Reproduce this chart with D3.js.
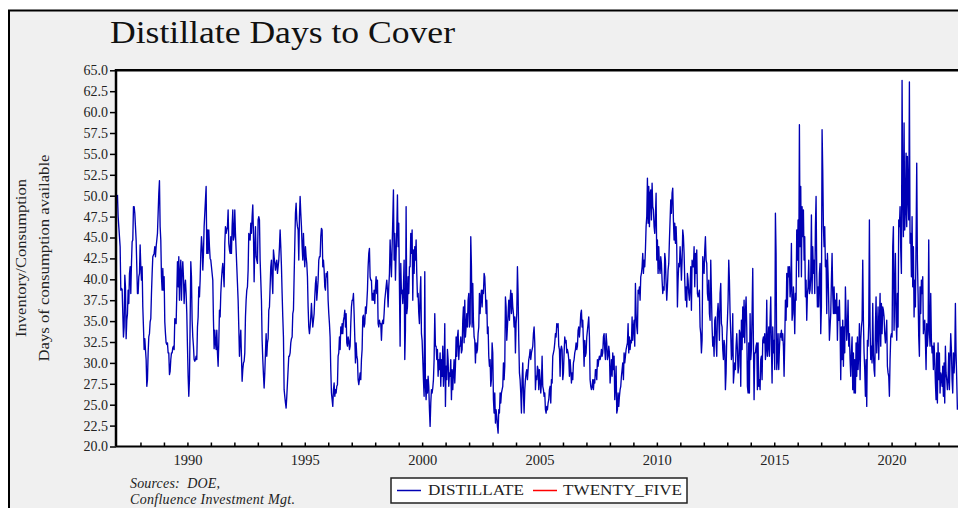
<!DOCTYPE html>
<html>
<head>
<meta charset="utf-8">
<script src="https://cdn.jsdelivr.net/npm/d3@7"></script>
<style>
  html, body { margin: 0; padding: 0; background: #fff; }
  svg { display: block; font-family: "Liberation Serif", "DejaVu Serif", serif; }
</style>
</head>
<body>
<div id="app"></div>
<script>
// Distillate days to cover on a regular ~10 day grid
const firstYear = 1987.02;
const stepYears = 0.0284;

const distillate1987 = [
  50.1, 47.5, 46.3, 45.1, 43.9, 38.7, 38.9, 38.8, 35.9, 33.1,
  34.3, 40.5, 39.1, 32.9, 35.1, 35.9, 38.7, 37.1, 40.7, 41.5,
  38.3, 41.9, 44.5, 44.7, 48.7, 48.7, 47.9, 46.3, 44.7, 41.5,
  38.3, 38.3, 40.3, 40.7, 44.1, 41.5, 39.9, 41.5, 36.7, 34.3,
  31.6, 32.9, 31.6, 30.4, 27.2, 28.0, 31.2, 33.1, 33.5, 34.9,
  35.3, 38.3, 40.7, 42.7, 42.9, 43.1, 43.9, 42.7, 43.9, 44.7,
  45.5, 47.9, 50.3, 51.8, 46.3, 44.7, 40.3, 38.7, 41.3, 38.7,
  40.3, 34.9, 33.5, 32.4, 32.2, 32.4, 31.2, 31.2, 28.6, 29.0,
  30.4, 31.2, 31.2, 31.8, 32.0, 31.6, 35.3, 35.1, 34.7, 38.3,
  42.1, 39.1, 42.7, 37.5, 40.7, 42.3, 37.5, 40.7, 42.1, 40.3,
  37.1, 39.1, 39.9, 38.3, 35.9, 32.0, 28.4, 26.0, 28.0, 34.7,
  42.1, 40.3, 35.1, 33.1, 32.0, 30.4, 30.2, 30.4, 30.8, 30.4,
  34.3, 35.5, 39.1, 37.9, 39.9, 43.1, 45.1, 43.9, 41.1, 43.1,
  46.3, 47.9, 49.5, 51.1, 43.1, 45.9, 43.1, 45.9, 43.9, 42.5,
  42.3, 41.5, 40.7, 39.9, 35.1, 31.7, 33.9, 32.4, 31.6, 33.9,
  31.2, 29.6, 32.4, 36.3, 35.5, 38.3, 39.9, 41.1, 41.9, 40.7,
  39.1, 44.3, 46.3, 45.5, 45.9, 46.3, 48.3, 44.3, 43.5, 43.1,
  45.1, 43.1, 46.3, 48.3, 44.7, 45.1, 48.3, 45.5, 43.5, 41.5,
  39.5, 37.5, 34.3, 30.8, 32.7, 33.9, 30.8, 27.8, 29.2, 30.0,
  30.2, 31.2, 35.5, 37.5, 38.7, 39.1, 41.1, 45.5, 45.1, 44.7,
  46.7, 45.5, 47.5, 48.9, 45.5, 39.7, 43.9, 46.3, 42.7, 42.3,
  41.9, 47.1, 47.5, 47.1, 42.3, 39.9, 37.5, 32.7, 30.4, 28.6,
  27.0, 28.8, 31.2, 33.5, 30.8, 32.4, 32.9, 36.3, 36.7, 39.1,
  41.5, 42.3, 39.9, 38.3, 43.5, 42.7, 41.9, 41.1, 41.9, 42.3,
  40.7, 41.5, 42.3, 43.9, 45.9, 43.9, 41.5, 38.3, 35.5, 33.1,
  26.8, 26.0, 25.2, 24.6, 26.0, 27.6, 29.2, 30.8, 30.8, 31.2,
  32.4, 32.9, 33.1, 35.9, 36.3, 40.3, 44.1, 47.9, 49.1, 47.1,
  46.3, 45.9, 42.3, 47.5, 49.9, 47.9, 46.3, 43.9, 42.3, 45.5,
  43.1, 41.5, 43.9, 42.7, 41.9, 40.3, 36.7, 34.3, 33.5, 34.3,
  35.5, 37.1, 35.5, 34.3, 35.1, 35.9, 37.9, 39.5, 40.3, 37.5,
  38.7, 39.9, 42.3, 42.7
];

const distillate1996 = [
  42.7, 45.1, 46.1, 45.9, 41.5, 42.3, 41.1, 39.1, 38.7, 40.7,
  40.3, 40.9, 37.5, 35.9, 34.7, 33.1, 29.2, 26.4, 25.6, 24.8,
  26.8, 27.6, 26.0, 26.8, 26.4, 27.2, 27.4, 30.8, 31.2, 33.1,
  31.6, 34.3, 33.5, 34.7, 33.5, 35.1, 35.5, 36.3, 34.3, 35.9,
  32.4, 32.0, 33.1, 32.7, 31.6, 32.0, 34.7, 36.7, 37.5, 37.5,
  38.3, 35.9, 33.1, 30.0, 32.4, 30.8, 30.4, 28.0, 27.4, 28.0,
  28.8, 28.0, 30.4, 31.6, 35.5, 35.7, 34.3, 34.7, 36.7, 35.9,
  37.1, 38.7, 41.5, 43.1, 43.7, 40.3, 39.9, 39.9, 37.5, 38.3,
  37.5, 38.7, 37.1, 39.1, 40.3, 38.3, 39.9, 34.7, 34.3, 35.1,
  34.7, 34.7, 32.7, 34.7, 35.1, 34.7, 35.9, 37.5, 38.3, 39.1,
  39.9, 38.7, 36.7, 39.1, 40.7, 44.7, 42.3, 40.3, 43.9, 47.1,
  50.7, 42.3, 45.5, 39.9, 43.1, 45.9, 50.1, 43.9, 46.7, 39.1,
  32.0, 41.9, 38.3, 38.7, 37.1, 39.1, 42.3, 30.4, 33.9, 48.7,
  35.9, 36.7, 40.3, 38.3, 41.5, 41.5, 45.5, 43.1, 45.9, 37.5,
  43.5, 40.7, 43.9, 42.3, 44.7, 40.7, 37.9, 38.3, 35.9, 34.7,
  38.3, 40.3, 33.5, 32.7, 30.4, 28.0, 26.0, 40.9, 27.2, 25.6,
  28.0, 26.4, 28.4, 27.2, 24.4, 22.4, 25.2, 26.8, 26.4, 27.0,
  28.0, 30.4, 35.9, 32.0, 32.0, 30.4, 31.6, 28.4, 30.4, 29.2,
  31.2, 27.2, 30.4, 28.4, 32.0, 27.2, 29.2, 34.7, 24.8, 29.6,
  28.0, 31.6, 30.4, 27.2, 28.8, 28.4, 30.4, 25.6, 29.2, 26.8,
  28.8, 30.4, 27.6, 29.6, 33.1, 30.8, 33.1, 33.9, 30.4, 32.0,
  32.0, 33.1, 31.2, 31.6, 35.1, 36.7, 32.4, 37.5, 33.1, 34.3,
  35.9, 34.3, 37.5, 38.3, 34.3, 34.7, 45.1, 41.5, 34.3, 39.5,
  35.1, 33.1, 32.7, 30.0, 32.4, 31.2, 31.6, 33.5, 34.3, 38.3,
  35.9, 37.9, 38.7, 36.7, 38.7, 38.3, 40.7, 40.3, 38.3, 35.9,
  37.5, 33.5, 34.3, 30.8, 29.6, 30.4, 27.2, 28.0, 32.4, 31.2,
  25.6, 24.0, 26.4, 22.8, 24.4, 23.6, 22.4, 21.6, 24.4, 24.0,
  26.4, 25.2, 26.4, 26.8, 27.2, 30.0, 28.0, 29.6, 37.9, 36.7,
  32.7, 34.3, 35.9, 37.5, 35.1, 37.5, 38.7, 35.9, 38.3, 36.7,
  35.9, 34.3, 35.5, 31.2, 34.7, 35.9, 41.5, 38.3, 32.7, 28.8,
  28.0, 26.4, 24.0, 28.0, 30.0, 26.4, 24.0, 26.8, 28.0, 28.8,
  29.2, 28.0, 29.2, 30.4, 30.8
];

const distillate2005 = [
  31.6, 30.4, 31.2, 31.6, 32.0, 33.5, 34.3, 32.4, 26.8, 28.4,
  28.0, 29.6, 29.2, 26.8, 29.2, 28.0, 26.4, 27.6, 30.8, 27.2,
  26.8, 26.0, 26.4, 24.4, 24.0, 24.8, 24.4, 25.2, 25.6, 26.8,
  27.2, 25.2, 28.0, 27.6, 30.8, 31.2, 31.6, 32.4, 33.5, 33.1,
  34.7, 34.3, 34.7, 32.0, 31.6, 28.4, 31.6, 32.0, 31.6, 28.0,
  28.8, 31.2, 33.1, 32.4, 32.7, 31.2, 31.6, 31.2, 30.4, 28.4,
  30.4, 29.2, 27.6, 28.8, 28.0, 30.0, 30.4, 31.2, 31.6, 32.4,
  31.6, 32.0, 33.9, 34.3, 33.1, 34.3, 35.9, 36.3, 34.3, 35.1,
  32.4, 29.6, 32.7, 30.8, 31.2, 33.1, 33.9, 34.7, 35.5, 33.1,
  28.0, 27.2, 26.8, 27.2, 28.0, 26.8, 28.0, 27.6, 29.2, 29.2,
  28.0, 30.4, 29.6, 30.4, 30.8, 30.4, 30.8, 31.6, 30.8, 31.2,
  33.1, 33.5, 31.6, 30.4, 33.5, 32.4, 30.4, 30.8, 32.0, 31.2,
  27.6, 28.8, 30.4, 28.4, 31.2, 29.2, 30.8, 25.6, 27.2, 29.6,
  24.0, 24.4, 26.4, 24.8, 26.0, 26.8, 27.2, 28.4, 29.2, 30.0,
  28.0, 31.2, 30.0, 30.8, 31.6, 32.0, 32.4, 34.7, 31.2, 33.1,
  31.6, 32.7, 32.4, 35.5, 32.7, 34.3, 35.1, 32.0, 39.5, 35.9,
  34.3, 33.5, 38.7, 38.3, 39.1, 37.5, 40.3, 40.7, 41.5, 43.1,
  40.7, 42.3, 41.5, 43.5, 46.3, 47.5, 52.1, 46.7, 51.1, 46.3,
  50.3, 50.7, 47.1, 51.5, 48.7, 48.3, 46.3, 45.5, 47.5, 50.3,
  42.3, 44.7, 40.7, 43.9, 41.5, 40.7, 42.7, 41.9, 39.9, 38.3,
  39.1, 38.7, 43.1, 42.3, 39.5, 37.5, 39.1, 41.1, 41.9, 44.7,
  47.1, 49.5, 47.9, 50.3, 50.9, 47.1, 44.7, 46.7, 44.3, 46.3,
  43.9, 36.7, 39.9, 41.9, 41.5, 43.9, 42.3, 39.9, 42.3, 45.9,
  45.1, 43.1, 39.9, 37.5, 39.1, 36.7, 40.7, 39.9, 38.3, 37.5,
  39.1, 41.5, 36.3, 42.3, 41.5, 41.5, 43.9, 39.1, 43.1, 40.7,
  43.5, 38.3, 37.9, 38.3, 38.7, 34.3, 33.5, 31.2, 32.7, 42.7,
  41.5, 40.7, 43.5, 45.1, 42.3, 41.9, 38.3, 37.5, 39.9, 35.9,
  35.1, 42.3, 38.3, 34.3, 32.0, 33.1, 30.8, 35.1, 35.5, 32.4,
  30.8, 35.9, 37.1, 35.5, 32.7, 38.3, 39.5, 34.7, 34.3, 31.6,
  30.4, 32.7, 32.0, 26.8, 28.8, 33.1, 35.1, 37.5, 42.3, 39.9,
  35.9, 33.5, 30.4, 31.2, 35.9, 27.6, 28.8, 30.0, 29.2, 32.0,
  33.5, 31.6, 28.8, 29.6, 33.9
];

const distillate2014 = [
  33.5, 27.2, 35.1, 31.6, 36.7, 33.1, 37.5, 32.4, 35.9, 37.9,
  34.3, 27.2, 26.4, 32.4, 26.4, 35.9, 30.4, 31.6, 35.9, 41.3,
  32.4, 25.6, 31.2, 31.2, 32.0, 32.4, 26.8, 32.4, 27.2, 28.0,
  26.8, 30.4, 30.8, 28.0, 32.7, 33.1, 32.4, 33.5, 30.4, 31.6,
  37.5, 30.8, 32.0, 34.3, 30.8, 35.1, 37.9, 32.0, 27.6, 34.3,
  31.2, 32.7, 29.2, 47.9, 43.1, 29.2, 30.4, 33.5, 29.2, 31.6,
  33.5, 33.1, 33.9, 32.7, 33.5, 32.0, 28.4, 32.7, 37.5, 35.1,
  40.7, 36.7, 41.5, 40.3, 41.5, 37.9, 39.1, 44.3, 35.1, 35.9,
  39.1, 37.1, 33.5, 38.3, 37.5, 45.9, 42.3, 47.1, 40.3, 58.5,
  43.9, 51.1, 40.3, 48.7, 45.1, 48.3, 42.3, 45.1, 37.9, 39.9,
  35.1, 38.3, 39.1, 42.3, 38.3, 38.7, 40.3, 47.7, 38.3, 43.9,
  40.7, 42.3, 38.3, 46.3, 49.9, 40.7, 36.7, 39.1, 36.7, 40.7,
  41.9, 33.5, 36.7, 57.9, 53.1, 46.3, 43.9, 46.3, 41.5, 42.3,
  35.9, 43.1, 40.7, 37.1, 32.7, 34.3, 35.9, 39.9, 43.1, 38.3,
  35.9, 39.1, 35.9, 37.5, 35.9, 38.3, 32.7, 36.7, 35.1, 37.5,
  34.3, 28.0, 34.3, 30.4, 35.1, 29.6, 34.3, 31.2, 39.1, 35.9,
  32.7, 34.3, 37.5, 32.0, 33.5, 30.4, 28.4, 31.2, 33.1, 26.8,
  31.2, 26.4, 30.4, 26.4, 32.4, 28.4, 33.1, 29.2, 31.2, 34.7,
  28.0, 32.7, 34.3, 35.1, 42.3, 35.1, 31.2, 29.2, 26.0, 30.4,
  24.8, 32.7, 32.0, 34.7, 47.1, 34.3, 30.4, 32.0, 30.0, 37.1,
  31.2, 29.2, 28.4, 34.3, 37.9, 31.2, 33.5, 36.7, 30.4, 34.7,
  38.3, 32.0, 37.1, 33.5, 36.7, 36.3, 35.5, 33.5, 32.4, 33.5,
  35.1, 29.6, 28.8, 28.4, 26.0, 30.4, 33.1, 33.5, 33.1, 43.9,
  46.3, 33.9, 38.3, 43.1, 35.1, 32.7, 38.3, 34.3, 47.1, 46.3,
  48.7, 43.5, 40.7, 63.8, 50.3, 45.1, 58.7, 45.9, 48.3, 55.1,
  46.3, 54.7, 49.9, 47.1, 63.6, 44.3, 45.5, 40.3, 47.5, 39.1,
  43.9, 35.5, 39.9, 36.7, 44.7, 53.9, 42.3, 38.3, 33.1, 30.8,
  39.1, 35.9, 39.9, 38.3, 40.3, 33.5, 34.7, 35.1, 32.7, 29.2,
  34.7, 32.0, 33.5, 44.7, 33.9, 32.0, 38.3, 32.7, 31.2, 32.0,
  29.2, 32.4, 30.4, 27.6, 25.6, 31.2, 25.2, 32.4, 28.0, 31.2,
  26.4, 28.8, 28.4, 27.2, 29.6, 26.0, 30.0, 25.2, 32.0, 28.8,
  28.0, 26.8, 28.0, 31.2, 26.8, 30.4, 33.5, 31.6, 28.0, 26.4,
  31.2, 28.8, 30.4, 37.1, 31.2, 28.0, 24.4
];

const yTicks = d3.range(20, 65.001, 2.5);
const yearTicks = d3.range(1988, 2023);
const legendItems = [
  { name: "DISTILLATE", color: "#0000b4" },
  { name: "TWENTY_FIVE", color: "#ff0000" }
];

const W = 958, H = 508;
const plot = { left: 116, top: 70.3, right: 962, bottom: 446.5 };

const svg = d3.select("#app").append("svg")
  .attr("width", W)
  .attr("height", H);

// grey panel with black frame (runs off the right and bottom edges)
svg.append("rect")
  .attr("x", 9).attr("y", 10.5)
  .attr("width", 1000).attr("height", 600)
  .attr("fill", "#f0f0f0")
  .attr("stroke", "#000")
  .attr("stroke-width", 2);

svg.append("text")
  .attr("x", 110).attr("y", 43)
  .attr("font-size", 31)
  .attr("textLength", 345)
  .attr("lengthAdjust", "spacingAndGlyphs")
  .attr("fill", "#111")
  .text("Distillate Days to Cover");

const x = d3.scaleLinear().domain([1987, 2023]).range([117, 962]);
const y = d3.scaleLinear().domain([20, 65]).range([plot.bottom, plot.top]);

svg.append("rect")
  .attr("x", plot.left).attr("y", plot.top)
  .attr("width", plot.right - plot.left)
  .attr("height", plot.bottom - plot.top)
  .attr("fill", "#fff");

svg.append("clipPath").attr("id", "clip")
  .append("rect")
  .attr("x", plot.left).attr("y", plot.top)
  .attr("width", plot.right - plot.left)
  .attr("height", plot.bottom - plot.top);

const values = [].concat(distillate1987, distillate1996, distillate2005, distillate2014);
const points = values.map((v, i) => ({ year: firstYear + i * stepYears, value: v }));

const line = d3.line()
  .x(d => x(d.year))
  .y(d => y(d.value));

svg.append("path")
  .datum(points)
  .attr("clip-path", "url(#clip)")
  .attr("d", line)
  .attr("fill", "none")
  .attr("stroke", legendItems[0].color)
  .attr("stroke-width", 1.35)
  .attr("stroke-linejoin", "round");

// axes
const yAxis = svg.append("g")
  .attr("transform", `translate(${plot.left},0)`)
  .call(d3.axisLeft(y).tickValues(yTicks).tickFormat(d3.format(".1f")).tickSize(6).tickPadding(2));

const xAxis = svg.append("g")
  .attr("transform", `translate(0,${plot.bottom})`)
  .call(d3.axisBottom(x).tickValues(yearTicks).tickSize(-4).tickPadding(8)
    .tickFormat(d => d % 5 === 0 ? String(d) : ""));

[yAxis, xAxis].forEach(g => {
  g.select(".domain").remove();
  g.selectAll(".tick line").attr("stroke", "#000").attr("stroke-width", 1.5);
  g.selectAll(".tick text")
    .attr("fill", "#222")
    .attr("font-family", "Liberation Serif, DejaVu Serif, serif")
    .attr("font-size", 14);
});
xAxis.selectAll(".tick text").attr("font-size", 14.5);

// plot border
svg.append("path")
  .attr("d", `M${plot.left},${plot.bottom}V${plot.top}H${plot.right + 2}`)
  .attr("fill", "none").attr("stroke", "#000").attr("stroke-width", 2.5);
svg.append("path")
  .attr("d", `M${plot.left},${plot.bottom}H${plot.right + 2}`)
  .attr("fill", "none").attr("stroke", "#000").attr("stroke-width", 2);

// y axis title, two lines
const yTitle = [
  { text: "Inventory/Consumption", x: 26, len: 158 },
  { text: "Days of consumption available", x: 49, len: 207 }
];
yTitle.forEach(t => {
  svg.append("text")
    .attr("transform", `translate(${t.x},258) rotate(-90)`)
    .attr("text-anchor", "middle")
    .attr("font-size", 15)
    .attr("textLength", t.len)
    .attr("lengthAdjust", "spacingAndGlyphs")
    .attr("fill", "#222")
    .text(t.text);
});

// sources
svg.append("text")
  .attr("x", 130).attr("y", 488)
  .attr("font-size", 14).attr("font-style", "italic").attr("fill", "#222")
  .attr("textLength", 90)
  .attr("xml:space", "preserve")
  .text("Sources:  DOE,");
svg.append("text")
  .attr("x", 130).attr("y", 503.5)
  .attr("font-size", 14).attr("font-style", "italic").attr("fill", "#222")
  .attr("textLength", 165)
  .text("Confluence Investment Mgt.");

// legend
const lg = svg.append("g");
lg.append("rect")
  .attr("x", 391).attr("y", 478)
  .attr("width", 296).attr("height", 25)
  .attr("fill", "#fff")
  .attr("stroke", "#222").attr("stroke-width", 1.5);
const legendPos = [
  { x1: 397, x2: 421, tx: 428, len: 96 },
  { x1: 533, x2: 557, tx: 563, len: 119 }
];
legendItems.forEach((item, i) => {
  const p = legendPos[i];
  lg.append("line")
    .attr("x1", p.x1).attr("x2", p.x2)
    .attr("y1", 490.5).attr("y2", 490.5)
    .attr("stroke", item.color).attr("stroke-width", 1.5);
  lg.append("text")
    .attr("x", p.tx).attr("y", 495)
    .attr("font-size", 14)
    .attr("textLength", p.len)
    .attr("lengthAdjust", "spacingAndGlyphs")
    .attr("fill", "#222")
    .text(item.name);
});
</script>
</body>
</html>
